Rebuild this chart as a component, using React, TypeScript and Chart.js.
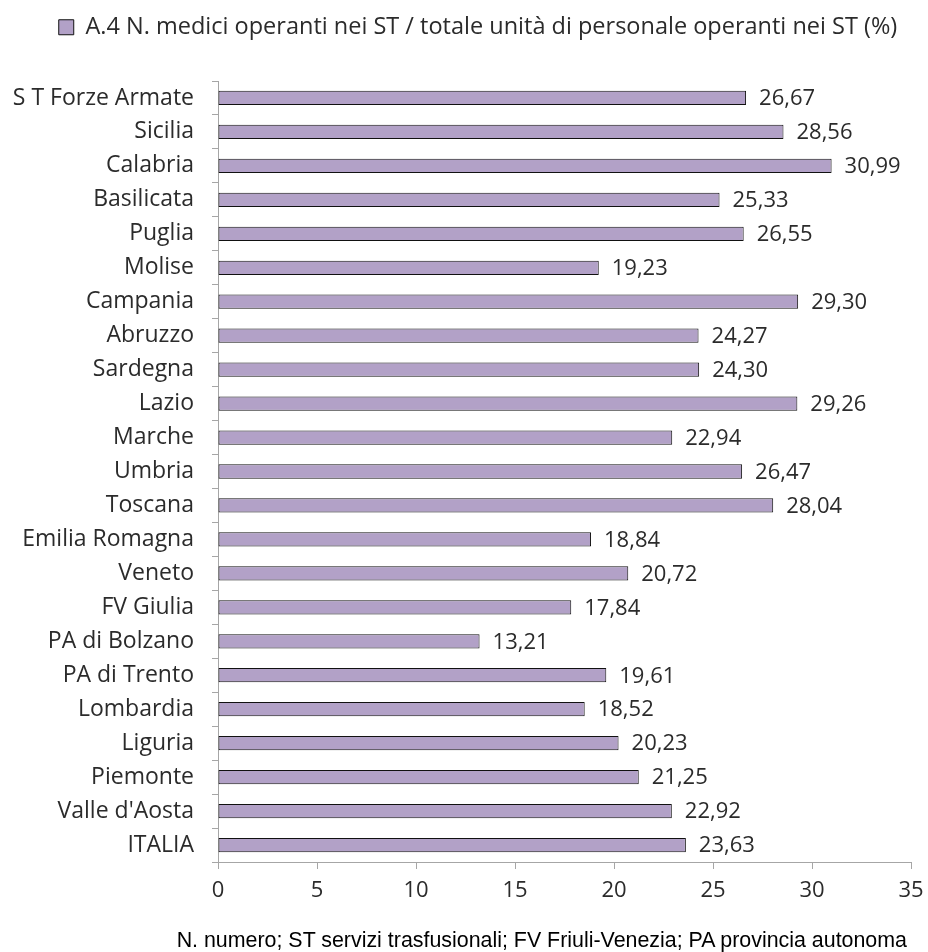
import React, { useEffect, useRef } from "react";
import { Chart, registerables } from "chart.js";

Chart.register(...registerables);

const categories: string[] = [
  "S T Forze Armate",
  "Sicilia",
  "Calabria",
  "Basilicata",
  "Puglia",
  "Molise",
  "Campania",
  "Abruzzo",
  "Sardegna",
  "Lazio",
  "Marche",
  "Umbria",
  "Toscana",
  "Emilia Romagna",
  "Veneto",
  "FV Giulia",
  "PA di Bolzano",
  "PA di Trento",
  "Lombardia",
  "Liguria",
  "Piemonte",
  "Valle d'Aosta",
  "ITALIA",
];

const values: number[] = [
  26.67, 28.56, 30.99, 25.33, 26.55, 19.23, 29.3, 24.27, 24.3, 29.26, 22.94,
  26.47, 28.04, 18.84, 20.72, 17.84, 13.21, 19.61, 18.52, 20.23, 21.25, 22.92,
  23.63,
];

const seriesLabel =
  "A.4 N. medici operanti nei ST / totale unità di personale operanti nei ST (%)";

const xTicks: number[] = [0, 5, 10, 15, 20, 25, 30, 35];

const footnote =
  "N. numero; ST servizi trasfusionali; FV Friuli-Venezia; PA provincia autonoma";

const FONT = "'Open Sans', sans-serif";
const TEXT = "#2b2b2b";
const AXIS = "#a6a6a6";
const FILL = "#b2a1c7";
const EDGE = "#111111";

const fmt = (v: number) => v.toFixed(2).replace(".", ",");

const valueLabels = {
  id: "valueLabels",
  afterDatasetsDraw(chart: any) {
    const ctx = chart.ctx;
    const meta = chart.getDatasetMeta(0);
    ctx.save();
    ctx.font = `22px ${FONT}`;
    ctx.fillStyle = TEXT;
    ctx.textAlign = "left";
    ctx.textBaseline = "middle";
    meta.data.forEach((el: any, i: number) => {
      ctx.fillText(fmt(values[i]), el.x + 13, el.y + 1);
    });
    ctx.restore();
  },
};

const legendGap = {
  id: "legendGap",
  afterInit(chart: any) {
    const legend = chart.legend;
    if (!legend || legend._gapPatched) return;
    const origFit = legend.fit;
    legend.fit = function () {
      origFit.call(this);
      this.height += 32;
    };
    legend._gapPatched = true;
  },
  afterLayout(chart: any) {
    const legend = chart.legend;
    if (!legend) return;
    legend.left += 10;
    legend.right += 10;
  },
};

export default function App() {
  const ref = useRef<HTMLCanvasElement | null>(null);

  useEffect(() => {
    if (!ref.current) return;
    const chart = new Chart(ref.current, {
      type: "bar",
      data: {
        labels: categories,
        datasets: [
          {
            label: seriesLabel,
            data: values,
            backgroundColor: FILL,
            borderColor: EDGE,
            borderWidth: 1,
            borderSkipped: false,
            categoryPercentage: 1,
            barPercentage: 0.42,
          },
        ],
      },
      options: {
        indexAxis: "y",
        responsive: false,
        animation: false,
        layout: { padding: { top: 0, bottom: 40, left: 0, right: 0 } },
        plugins: {
          legend: {
            display: true,
            position: "top",
            labels: {
              boxWidth: 15,
              boxHeight: 15,
              padding: 7.5,
              color: TEXT,
              font: { family: FONT, size: 23.5 },
              generateLabels: () => [
                {
                  text: seriesLabel,
                  fillStyle: FILL,
                  strokeStyle: EDGE,
                  lineWidth: 1,
                  datasetIndex: 0,
                  fontColor: TEXT,
                },
              ],
            },
          },
          tooltip: { enabled: false },
        },
        scales: {
          x: {
            min: 0,
            max: 35,
            afterBuildTicks: (scale: any) => {
              scale.ticks = xTicks.map((v) => ({ value: v }));
            },
            afterFit: (scale: any) => {
              scale.height = 50;
              scale.paddingLeft = 0;
              scale.paddingRight = 17;
            },
            grid: {
              drawOnChartArea: false,
              drawTicks: true,
              tickLength: 7,
              color: AXIS,
            },
            border: { display: true, color: AXIS, width: 1 },
            ticks: {
              color: TEXT,
              padding: 9,
              font: { family: FONT, size: 22 },
              maxRotation: 0,
            },
          },
          y: {
            afterFit: (scale: any) => {
              scale.width = 210;
            },
            grid: {
              drawOnChartArea: false,
              drawTicks: true,
              tickLength: 6,
              color: AXIS,
              offset: true,
            },
            border: { display: true, color: AXIS, width: 1 },
            ticks: {
              color: TEXT,
              padding: 18,
              font: { family: FONT, size: 23 },
              autoSkip: false,
            },
          },
        },
      },
      plugins: [legendGap, valueLabels],
    });
    return () => chart.destroy();
  }, []);

  return (
    <div
      style={{
        position: "fixed",
        left: 8,
        top: 8,
        width: 920,
        height: 944,
        overflow: "hidden",
      }}
    >
      <canvas ref={ref} width={920} height={944} style={{ display: "block" }} />
      <div
        style={{
          position: "absolute",
          right: 21,
          top: 920,
          fontFamily: "'Liberation Sans', Arial, sans-serif",
          fontSize: 21.4,
          lineHeight: "24px",
          color: "#000",
          whiteSpace: "nowrap",
        }}
      >
        {footnote}
      </div>
    </div>
  );
}
